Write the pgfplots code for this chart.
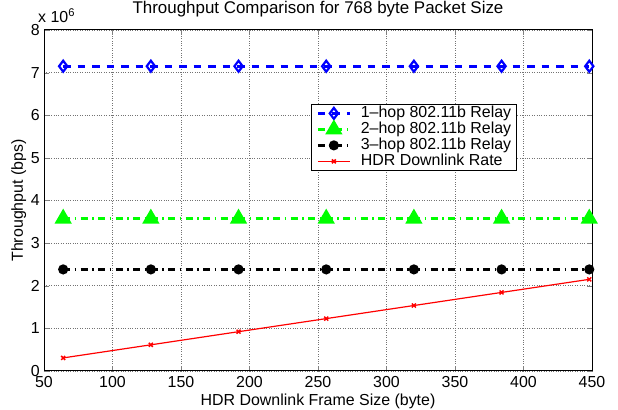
\documentclass[border=0pt]{standalone}
\usepackage{pgfplots}
\pgfplotsset{compat=1.18}
\usepackage{fontspec}
\setmainfont{Liberation Sans}
\pgfplotsset{longlegend/.style={legend image code/.code={%
    \draw[mark repeat=2, mark phase=2, ##1] plot coordinates {(0bp,0bp) (16bp,0bp) (32bp,0bp)};}}}

\begin{document}
\begin{tikzpicture}
\pgfplotstableread{
x      hop1    hop2    hop3    hdr
64     7.15e6  3.575e6 2.383e6 0.307e6
128    7.15e6  3.575e6 2.383e6 0.614e6
192    7.15e6  3.575e6 2.383e6 0.922e6
256    7.15e6  3.575e6 2.383e6 1.229e6
320    7.15e6  3.575e6 2.383e6 1.536e6
384    7.15e6  3.575e6 2.383e6 1.843e6
448    7.15e6  3.575e6 2.383e6 2.150e6
}\data
\begin{axis}[
    name=ax,
    scale only axis,
    width=548bp, height=341bp,
    xmin=50, xmax=450, ymin=0, ymax=8e6,
    xtick={50,100,...,450},
    ytick={0,1e6,2e6,3e6,4e6,5e6,6e6,7e6,8e6},
    yticklabels={0,1,2,3,4,5,6,7,8},
    scaled y ticks=false,
    /pgf/number format/assume math mode=true,
    font=\fontsize{16}{18}\selectfont,
    tick label style={font=\fontsize{16}{18}\selectfont},
    xticklabel style={inner sep=0pt, yshift=-5bp},
    yticklabel style={inner sep=0pt, xshift=-4bp},
    tick align=inside,
    major tick length=5bp,
    xtick pos=both, ytick pos=both,
    grid=major,
    grid style={black!55, dotted, line width=0.6pt},
    axis line style={line width=1pt},
    title={Throughput Comparison for 768 byte Packet Size},
    title style={font=\fontsize{17}{18}\selectfont, at={(0.5,1)}, anchor=base, yshift=11bp, inner sep=0pt},
    xlabel={HDR Downlink Frame Size (byte)},
    ylabel={Throughput (bps)},
    xlabel style={at={(rel axis cs:0.5,0)}, anchor=base, yshift=-35bp, inner sep=0pt},
    ylabel style={at={(rel axis cs:0,0.5)}, anchor=base, yshift=21bp, inner sep=0pt},
    legend style={at={(0.4872,0.783)}, anchor=north west, font=\fontsize{16}{18}\selectfont,
        draw=black, line width=0.8pt, inner xsep=5bp, inner ysep=1bp, row sep=0pt,
        nodes={inner sep=0.5bp, text height=11.5bp, text depth=3.5bp},
        /tikz/every odd column/.append style={column sep=9bp}},
    legend cell align=left,
    clip=false,
]
\addplot[blue, line width=2.6pt, dash pattern=on 7.5bp off 7bp, mark=diamond, mark size=5.5bp,
    mark options={solid, line width=2.2pt, fill=white}, longlegend]
    table[x=x,y=hop1]{\data};
\addlegendentry{1--hop 802.11b Relay}
\addplot[green, line width=3pt, dash pattern=on 7bp off 4.5bp on 1.5bp off 4.5bp, mark=triangle*, mark size=7bp,
    mark options={solid}, longlegend]
    table[x=x,y=hop2]{\data};
\addlegendentry{2--hop 802.11b Relay}
\addplot[black, line width=3pt, dash pattern=on 7bp off 4.5bp on 1.5bp off 4.5bp, mark=*, mark size=3.5bp,
    mark options={solid}, longlegend]
    table[x=x,y=hop3]{\data};
\addlegendentry{3--hop 802.11b Relay}
\addplot[red, line width=1.2pt, mark=x, mark size=2.8bp,
    mark options={solid, line width=1.5pt}, longlegend]
    table[x=x,y=hdr]{\data};
\addlegendentry{HDR Downlink Rate}
\node[anchor=base west, inner sep=0pt, font=\fontsize{16}{18}\selectfont] at ([shift={(-6bp,7bp)}]rel axis cs:0,1) {x 10\textsuperscript{6}};
\end{axis}
\pgfresetboundingbox
\path[use as bounding box] ([shift={(-44bp,-39bp)}]ax.south west) rectangle ([shift={(26bp,30bp)}]ax.north east);
\end{tikzpicture}
\end{document}
